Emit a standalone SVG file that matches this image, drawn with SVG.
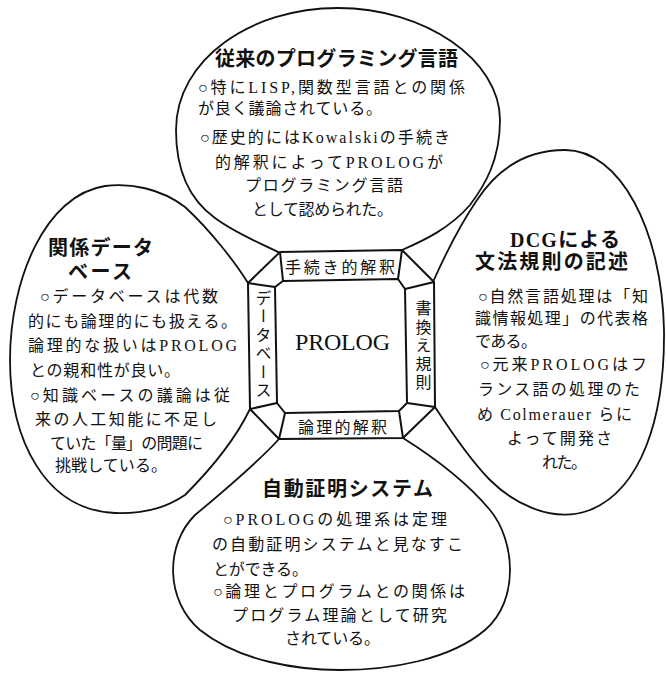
<svg xmlns="http://www.w3.org/2000/svg" width="666" height="675" viewBox="0 0 666 675">
<style>
.lobe{fill:none;stroke:#111;stroke-width:1.8;stroke-linejoin:round}
.oct{fill:none;stroke:#111;stroke-width:2;stroke-linejoin:round}
text{font-family:"Liberation Serif","Noto Sans CJK JP",serif;fill:#111}
.t{font-size:20px;font-weight:bold}
.b{font-size:16px}
.lbl{font-size:16px}
.v{font-size:16px;writing-mode:vertical-rl}
</style>
<rect width="666" height="675" fill="#fff"/>

<g id="center">
<path class="oct" d="M280,252 L402,250 L434,282 L435,407 L403,438 L279,439 L250,409 L248,283 Z"/>
<path class="oct" d="M283,281 L398,279 L405,289 L407,403 L399,411 L285,413 L277,403 L275,287 Z"/>
<path class="oct" d="M280,252 L283,281 M402,250 L398,279 M434,282 L405,289 M435,407 L407,403 M403,438 L399,411 M279,439 L285,413 M250,409 L277,403 M248,283 L275,287"/>
<text x="295" y="350" font-size="24" textLength="95" lengthAdjust="spacing">PROLOG</text>
<text class="lbl" x="285" y="273" textLength="110" lengthAdjust="spacing">手続き的解釈</text>
<text class="lbl" x="298" y="433" textLength="89" lengthAdjust="spacing">論理的解釈</text>
<text class="v" x="262" y="290" letter-spacing="2.4">データベース</text>
<text class="v" x="422" y="300" letter-spacing="2.5">書換え規則</text>
</g>

<g id="top-lobe">
<path class="lobe" d="M280,253 C260,243 235,233 215,218 C190,200 176,170 176,130 C176,60 250,8 338,8 C425,8 500,60 500,120 C500,160 485,185 470,205 C450,228 425,240 402,250"/>
<text class="t" x="215" y="66" textLength="243" lengthAdjust="spacing">従来のプログラミング言語</text>
<text class="b" x="198" y="93" textLength="267" lengthAdjust="spacing">○特にLISP,関数型言語との関係</text>
<text class="b" x="198" y="114" textLength="184" lengthAdjust="spacing">が良く議論されている。</text>
<text class="b" x="200" y="143" textLength="250" lengthAdjust="spacing">○歴史的にはKowalskiの手続き</text>
<text class="b" x="215" y="168" textLength="228" lengthAdjust="spacing">的解釈によってPROLOGが</text>
<text class="b" x="245" y="191" textLength="158" lengthAdjust="spacing">プログラミング言語</text>
<text class="b" x="252" y="215" textLength="141" lengthAdjust="spacing">として認められた。</text>
</g>

<g id="left-lobe">
<path class="lobe" d="M248,283 C235,262 210,230 185,207 C160,188 130,183 105,186 C45,195 10,280 10,360 C10,440 45,510 115,513 C150,514 170,505 185,495 C210,470 235,440 250,409"/>
<text class="t" x="48" y="255" textLength="105" lengthAdjust="spacing">関係データ</text>
<text class="t" x="68" y="279" textLength="64" lengthAdjust="spacing">ベース</text>
<text class="b" x="40" y="302" textLength="178" lengthAdjust="spacing">○データベースは代数</text>
<text class="b" x="28" y="327" textLength="209" lengthAdjust="spacing">的にも論理的にも扱える。</text>
<text class="b" x="28" y="351" textLength="209" lengthAdjust="spacing">論理的な扱いはPROLOG</text>
<text class="b" x="30" y="376" textLength="150" lengthAdjust="spacing">との親和性が良い。</text>
<text class="b" x="30" y="401" textLength="200" lengthAdjust="spacing">○知識ベースの議論は従</text>
<text class="b" x="35" y="425" textLength="182" lengthAdjust="spacing">来の人工知能に不足し</text>
<text class="b" x="50" y="449" textLength="153" lengthAdjust="spacing">ていた「量」の問題に</text>
<text class="b" x="55" y="471" textLength="112" lengthAdjust="spacing">挑戦している。</text>
</g>

<g id="right-lobe">
<path class="lobe" d="M433,282 C445,255 460,225 477,200 C500,165 530,150 565,150 C620,150 662,230 664,330 C665,420 640,490 590,510 C550,525 510,500 490,480 C470,460 450,430 435,407"/>
<text class="t" x="510" y="247" textLength="110" lengthAdjust="spacing">DCGによる</text>
<text class="t" x="475" y="269" textLength="153" lengthAdjust="spacing">文法規則の記述</text>
<text class="b" x="478" y="302" textLength="170" lengthAdjust="spacing">○自然言語処理は「知</text>
<text class="b" x="475" y="324" textLength="173" lengthAdjust="spacing">識情報処理」の代表格</text>
<text class="b" x="475" y="347" textLength="62" lengthAdjust="spacing">である。</text>
<text class="b" x="480" y="370" textLength="167" lengthAdjust="spacing">○元来PROLOGはフ</text>
<text class="b" x="478" y="395" textLength="162" lengthAdjust="spacing">ランス語の処理のた</text>
<text class="b" x="477" y="420" textLength="155" lengthAdjust="spacing">め Colmerauer らに</text>
<text class="b" x="507" y="444" textLength="105" lengthAdjust="spacing">よって開発さ</text>
<text class="b" x="542" y="468" textLength="45" lengthAdjust="spacing">れた。</text>
</g>

<g id="bottom-lobe">
<path class="lobe" d="M279,439 C260,460 225,490 195,515 C165,545 165,600 200,630 C240,662 300,670 340,670 C390,670 450,660 485,630 C520,600 515,540 490,510 C465,480 430,455 403,438"/>
<text class="t" x="262" y="496" textLength="171" lengthAdjust="spacing">自動証明システム</text>
<text class="b" x="223" y="525" textLength="224" lengthAdjust="spacing">○PROLOGの処理系は定理</text>
<text class="b" x="212" y="550" textLength="251" lengthAdjust="spacing">の自動証明システムと見なすこ</text>
<text class="b" x="213" y="575" textLength="95" lengthAdjust="spacing">とができる。</text>
<text class="b" x="213" y="597" textLength="252" lengthAdjust="spacing">○論理とプログラムとの関係は</text>
<text class="b" x="232" y="621" textLength="215" lengthAdjust="spacing">プログラム理論として研究</text>
<text class="b" x="285" y="644" textLength="95" lengthAdjust="spacing">されている。</text>
</g>
</svg>
